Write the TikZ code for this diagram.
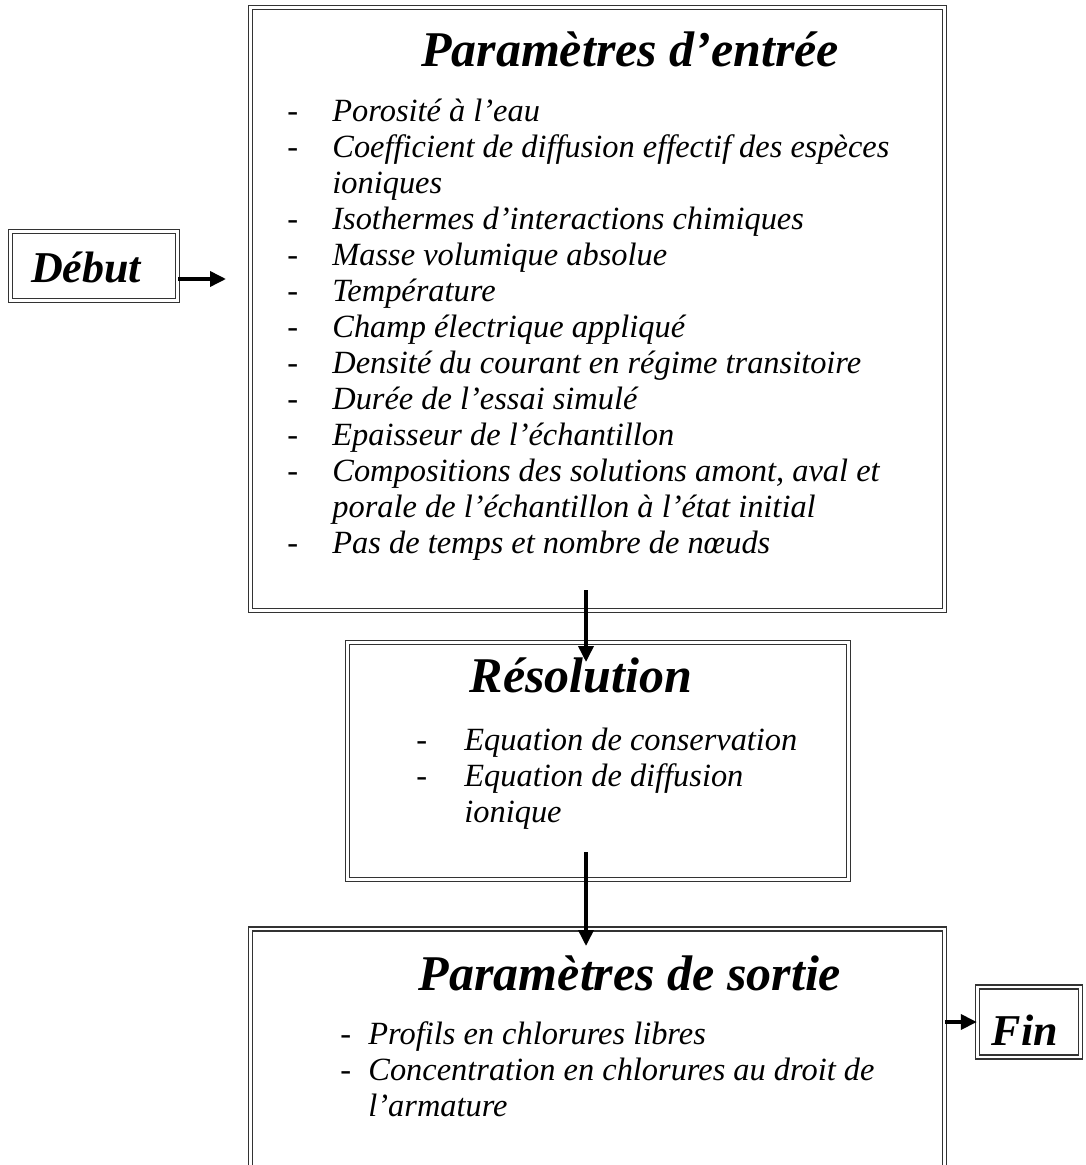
\documentclass[tikz,border=0pt]{standalone}
\usepackage{fontspec}
\setmainfont{Liberation Serif}
\usetikzlibrary{arrows.meta,positioning,calc}

\newcommand{\dsh}[1]{\makebox[#1][l]{\upshape-}}

\begin{document}
\begin{tikzpicture}[x=0.5pt,y=-0.5pt,
  box/.style={draw=black!80,double,double distance=1.4pt,line width=0.7pt,inner sep=0pt},
  ttl/.style={font=\fontsize{25}{29}\selectfont\bfseries\itshape,anchor=base,inner sep=0pt},
  lst/.style={font=\fontsize{16.2}{18}\selectfont\itshape,anchor=base west,inner sep=0pt},
  arr/.style={line width=1.8pt,-{Triangle[length=8pt,width=7.5pt]}},
]
  \useasboundingbox (0,0) rectangle (1085,1165);

  % boxes
  \node[box,minimum width=83.5pt,minimum height=34.5pt] (start) at (94,266) {};
  \node[box,minimum width=347pt,minimum height=301.5pt] (in) at (597.5,309) {};
  \node[box,minimum width=250.5pt,minimum height=118.5pt] (res) at (598,761) {};
  \node[box,minimum width=347pt,minimum height=134pt] (out) at (597.5,1063) {};
  \node[box,minimum width=51.5pt,minimum height=35pt] (fin) at (1029,1022) {};

  % titles
  \node[ttl,font=\fontsize{22}{26}\selectfont\bfseries\itshape] (startT) at (86,283) {Début};
  \node[ttl] (inT) at (630,67) {Paramètres d’entrée};
  \node[ttl] (resT) at (581,692) {Résolution};
  \node[ttl] (outT) at (630,990) {Paramètres de sortie};
  \node[ttl,font=\fontsize{22}{26}\selectfont\bfseries\itshape] (finT) at (1025,1045) {Fin};

  % lists
  \node[lst] (inL) at (287,122) {\begin{tabular}[t]{@{}l@{}}
    \dsh{22.5pt}Porosité à l’eau\\
    \dsh{22.5pt}Coefficient de diffusion effectif des espèces\\
    \hspace*{22.5pt}ioniques\\
    \dsh{22.5pt}Isothermes d’interactions chimiques\\
    \dsh{22.5pt}Masse volumique absolue\\
    \dsh{22.5pt}Température\\
    \dsh{22.5pt}Champ électrique appliqué\\
    \dsh{22.5pt}Densité du courant en régime transitoire\\
    \dsh{22.5pt}Durée de l’essai simulé\\
    \dsh{22.5pt}Epaisseur de l’échantillon\\
    \dsh{22.5pt}Compositions des solutions amont, aval et\\
    \hspace*{22.5pt}porale de l’échantillon à l’état initial\\
    \dsh{22.5pt}Pas de temps et nombre de nœuds
  \end{tabular}};
  \node[lst] (resL) at (416,750) {\begin{tabular}[t]{@{}l@{}}
    \dsh{24pt}Equation de conservation\\
    \dsh{24pt}Equation de diffusion\\
    \hspace*{24pt}ionique
  \end{tabular}};
  \node[lst] (outL) at (340,1044) {\begin{tabular}[t]{@{}l@{}}
    \dsh{14pt}Profils en chlorures libres\\
    \dsh{14pt}Concentration en chlorures au droit de\\
    \hspace*{14pt}l’armature
  \end{tabular}};

  % connectors
  \coordinate (inW) at (226,279);
  \coordinate (a1) at (586,590);
  \coordinate (a1e) at (586,662);
  \coordinate (a2) at (586,852);
  \coordinate (a2e) at (586,946);
  \draw[arr] (start.east |- inW) -- (inW);
  \draw[arr] (a1) -- (a1e);
  \draw[arr] (a2) -- (a2e);
  \draw[arr] (out.east |- fin.west) -- (fin.west);
\end{tikzpicture}
\end{document}
